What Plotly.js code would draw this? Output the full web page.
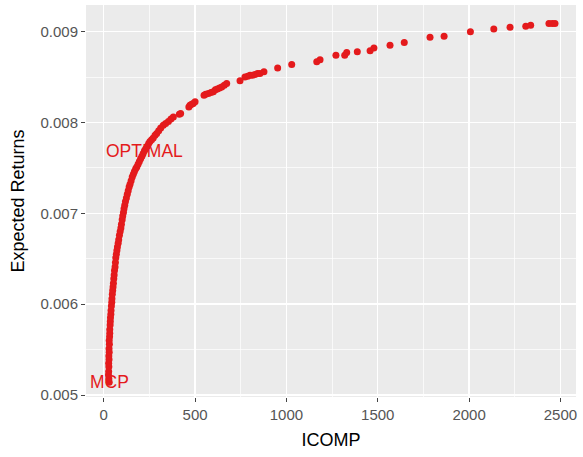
<!DOCTYPE html>
<html>
<head>
<meta charset="utf-8">
<script src="https://cdn.plot.ly/plotly-3.0.1.min.js"></script>
<style>
  html, body { margin: 0; padding: 0; background: #ffffff; }
  #chart { width: 583px; height: 457px; }
</style>
</head>
<body>
<div id="chart"></div>
<script>
// Efficient frontier: information complexity (ICOMP) vs expected return
const icomp = [
  30, 28, 26, 27, 28, 27, 29, 28, 30, 29, 31, 30, 32, 33, 33, 35, 36, 37, 39, 40,
  42, 44, 45, 47, 49, 51, 53, 55, 57, 59, 62, 64, 66, 69, 72, 75, 79, 82, 86, 90,
  94, 97, 101, 104, 108, 111, 115, 119, 124, 129, 134, 139, 144, 150, 156, 162, 168, 175, 181, 188,
  195, 202, 209, 216, 223, 230, 238, 246, 253, 262, 271, 281, 290, 301, 312, 326, 339, 354, 368, 381,
  414, 421, 466, 472, 481, 490, 500, 549, 558, 573, 587, 600, 611, 622, 634, 646, 660, 673, 746, 773,
  788, 801, 815, 828, 842, 855, 877, 952, 1029, 1166, 1184, 1271, 1319, 1330, 1388, 1458, 1479, 1567, 1645, 1786,
  1863, 2007, 2135, 2224, 2310, 2337, 2437, 2455, 2470
];

const expectedReturns = [
  0.00514, 0.00518, 0.00522, 0.00526, 0.00531, 0.00535, 0.00539, 0.00543, 0.00547, 0.00551,
  0.00556, 0.00560, 0.00564, 0.00568, 0.00572, 0.00577, 0.00581, 0.00585, 0.00589, 0.00593,
  0.00598, 0.00602, 0.00606, 0.00611, 0.00615, 0.00619, 0.00623, 0.00628, 0.00632, 0.00637,
  0.00641, 0.00646, 0.00651, 0.00655, 0.00659, 0.00663, 0.00667, 0.00671, 0.00676, 0.00680,
  0.00684, 0.00688, 0.00693, 0.00697, 0.00701, 0.00705, 0.00709, 0.00713, 0.00717, 0.00721,
  0.00725, 0.00729, 0.00732, 0.00736, 0.00740, 0.00743, 0.00746, 0.00749, 0.00751, 0.00754,
  0.00757, 0.00760, 0.00763, 0.00766, 0.00769, 0.00771, 0.00774, 0.00777, 0.00779, 0.00781,
  0.00783, 0.00786, 0.00788, 0.00791, 0.00794, 0.00797, 0.00799, 0.00801, 0.00804, 0.00806,
  0.00809, 0.00810, 0.00817, 0.00819, 0.00820, 0.00821, 0.00823, 0.00830, 0.00831, 0.00832,
  0.00833, 0.00834, 0.00836, 0.00837, 0.00838, 0.00839, 0.00841, 0.00843, 0.00846, 0.00850,
  0.00851, 0.00852, 0.00852, 0.00853, 0.00854, 0.00854, 0.00856, 0.00860, 0.00864, 0.00867,
  0.00869, 0.00874, 0.00874, 0.00877, 0.00878, 0.00879, 0.00882, 0.00885, 0.00888, 0.00894,
  0.00895, 0.00900, 0.00903, 0.00905, 0.00906, 0.00907, 0.00909, 0.00909, 0.00909
];

// Labelled portfolios: minimum-concentration portfolio and the ICOMP optimum
const labelText = ['MCP', 'OPTIMAL'];
const labelIcomp = [30, 223];
const labelReturn = [0.00514, 0.00769];

const xTickVals = [0, 500, 1000, 1500, 2000, 2500];
const yTickVals = [0.005, 0.006, 0.007, 0.008, 0.009];
const yTickText = ['0.005', '0.006', '0.007', '0.008', '0.009'];

const pointRed = '#E41A1C';
const fontFamily = '"Liberation Sans", Arial, Helvetica, sans-serif';

const trace = {
  type: 'scatter',
  mode: 'markers',
  x: icomp,
  y: expectedReturns,
  marker: { color: pointRed, size: 7, line: { width: 0 } },
  hoverinfo: 'x+y'
};

const annotations = labelText.map((t, i) => ({
  x: labelIcomp[i],
  y: labelReturn[i],
  xref: 'x',
  yref: 'y',
  text: t,
  showarrow: false,
  xanchor: 'center',
  yanchor: 'middle',
  font: { family: fontFamily, size: 17.5, color: pointRed }
}));

const axisCommon = {
  showline: false,
  zeroline: false,
  showgrid: true,
  gridcolor: '#ffffff',
  gridwidth: 1.4,
  ticks: 'outside',
  ticklen: 4,
  tickwidth: 1,
  tickcolor: '#444444',
  tickfont: { family: fontFamily, size: 15, color: '#555555' }
};

const layout = {
  width: 583,
  height: 457,
  margin: { l: 86, r: 7, t: 5, b: 60 },
  paper_bgcolor: '#ffffff',
  plot_bgcolor: '#EBEBEB',
  showlegend: false,
  xaxis: Object.assign({}, axisCommon, {
    range: [-97, 2585],
    tickvals: xTickVals,
    ticktext: xTickVals.map(String),
    minor: { dtick: 250, tick0: 0, showgrid: true, gridcolor: '#ffffff', gridwidth: 0.7, ticks: '' },
    title: { text: 'ICOMP', font: { family: fontFamily, size: 18, color: '#000000' }, standoff: 11 }
  }),
  yaxis: Object.assign({}, axisCommon, {
    range: [0.004978, 0.009294],
    tickvals: yTickVals,
    ticktext: yTickText,
    minor: { dtick: 0.0005, tick0: 0.005, showgrid: true, gridcolor: '#ffffff', gridwidth: 0.7, ticks: '' },
    title: { text: 'Expected Returns', font: { family: fontFamily, size: 18, color: '#000000' }, standoff: 11 }
  }),
  annotations: annotations
};

Plotly.newPlot('chart', [trace], layout, { displayModeBar: false, staticPlot: true });
</script>
</body>
</html>
